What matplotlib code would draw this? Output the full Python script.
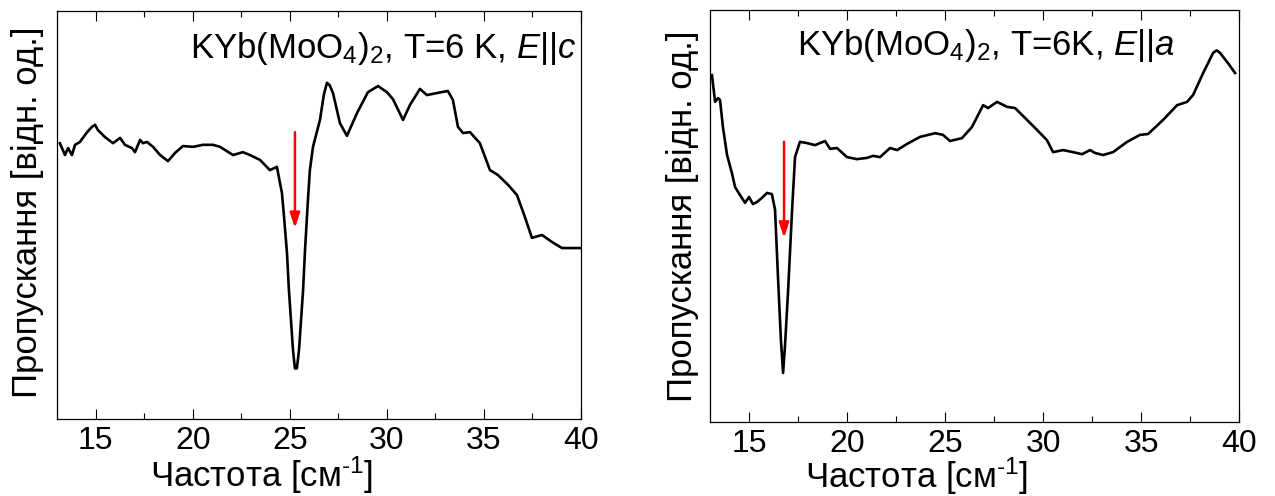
import matplotlib
matplotlib.use("Agg")
import matplotlib.pyplot as plt
from matplotlib.ticker import MultipleLocator, NullLocator

plt.rcParams['font.family'] = ['Liberation Sans', 'DejaVu Sans']
plt.rcParams['mathtext.fontset'] = 'custom'
plt.rcParams['mathtext.rm'] = 'Liberation Sans'
plt.rcParams['mathtext.it'] = 'Liberation Sans:italic'
plt.rcParams['mathtext.bf'] = 'Liberation Sans:bold'

# ---- data: E || c (left) ----
freq_c = [13.15, 13.41, 13.57, 13.77, 13.93, 14.18, 14.55, 14.80, 14.96, 15.11,
          15.47, 15.89, 16.25, 16.50, 16.86, 17.02, 17.28, 17.43, 17.64, 17.95,
          18.31, 18.72, 19.08, 19.49, 20.01, 20.52, 21.04, 21.40, 22.07, 22.58,
          22.94, 23.46, 23.97, 24.33, 24.59, 24.69, 24.85, 24.95, 25.16, 25.26,
          25.36, 25.47, 25.68, 25.78, 25.93, 26.03, 26.19, 26.55, 26.75, 26.91,
          27.05, 27.22, 27.58, 27.94, 28.46, 29.02, 29.54, 30.00, 30.31, 30.83,
          31.19, 31.70, 32.06, 32.58, 33.14, 33.40, 33.66, 33.92, 34.28, 34.79,
          35.31, 35.72, 36.24, 36.70, 37.11, 37.47, 37.99, 38.50, 39.02, 39.69,
          39.95]
trans_c = [67.6, 64.7, 66.4, 64.7, 67.2, 67.9, 70.3, 71.6, 72.1, 70.8,
           69.1, 67.6, 68.9, 67.2, 66.4, 65.4, 68.4, 67.6, 67.9, 66.7,
           64.7, 63.2, 65.2, 66.9, 66.7, 67.2, 67.2, 66.7, 64.7, 65.4,
           64.7, 63.5, 61.0, 61.8, 55.4, 50.0, 40.7, 31.6, 16.9, 12.4,
           12.4, 16.9, 31.6, 41.4, 53.7, 61.0, 66.7, 73.3, 79.5, 82.4,
           81.8, 79.9, 72.5, 69.4, 75.0, 80.1, 81.6, 80.1, 78.4, 73.3,
           77.0, 80.9, 79.4, 79.9, 80.4, 78.2, 71.6, 70.1, 70.3, 67.6,
           61.0, 59.8, 57.4, 54.9, 49.5, 44.4, 45.1, 43.4, 41.9, 41.9,
           41.9]

# ---- data: E || a (right) ----
freq_a = [13.10, 13.26, 13.41, 13.51, 13.66, 13.87, 14.12, 14.28, 14.53, 14.79,
          14.99, 15.19, 15.40, 15.65, 15.91, 16.16, 16.32, 16.47, 16.62, 16.73,
          16.83, 16.98, 17.19, 17.34, 17.59, 17.95, 18.36, 18.87, 19.13, 19.48,
          19.99, 20.50, 21.01, 21.32, 21.68, 22.19, 22.55, 23.06, 23.72, 24.49,
          24.89, 25.25, 25.86, 26.37, 26.94, 27.19, 27.65, 28.16, 28.57, 29.08,
          29.69, 30.20, 30.51, 31.02, 31.53, 31.99, 32.40, 32.65, 33.06, 33.57,
          34.29, 34.95, 35.36, 36.12, 36.84, 37.35, 37.66, 38.17, 38.68, 38.86,
          39.03, 39.44, 39.80]
trans_a = [84.2, 77.7, 78.6, 78.2, 71.6, 64.8, 60.4, 57.0, 55.1, 53.2,
           54.6, 52.9, 53.4, 54.4, 55.6, 55.3, 51.5, 35.2, 19.9, 11.9,
           18.7, 31.3, 51.5, 64.3, 68.0, 67.7, 67.2, 68.2, 66.3, 66.5,
           64.3, 63.8, 64.1, 64.6, 64.3, 66.5, 66.0, 67.5, 69.2, 70.1,
           69.7, 68.2, 68.9, 71.6, 76.9, 76.2, 77.7, 76.5, 76.2, 73.8,
           70.9, 68.4, 65.5, 66.0, 65.5, 65.0, 66.0, 65.3, 64.8, 65.5,
           68.0, 69.7, 69.9, 73.3, 76.9, 77.7, 79.4, 84.7, 89.6, 90.2,
           89.6, 87.1, 84.7]

arrow_c = (25.26, 70.3, 46.8)   # x, y_start, y_end
arrow_a = (16.78, 68.0, 44.7)

xticks = [15, 20, 25, 30, 35, 40]
title_c = r"KYb(MoO$_4$)$_2$, T=6 K, $E$||$c$"
title_a = r"KYb(MoO$_4$)$_2$, T=6K, $E$||$a$"
xlabel = r"Частота [см$^{\text{-}1}$]"
ylabel = "Пропускання [відн. од.]"

W, H = 1275, 496
fig = plt.figure(figsize=(W / 100, H / 100), dpi=100)

def axes_px(x0, y0, x1, y1):
    return fig.add_axes([x0 / W, 1 - y1 / H, (x1 - x0) / W, (y1 - y0) / H])

ax1 = axes_px(57, 11, 581, 419)
ax2 = axes_px(710, 10, 1239, 422)

for ax, f, t, arr, ylab_x, xlab_y, ylab_y in [
        (ax1, freq_c, trans_c, arrow_c, -0.024, -0.167, 0.507),
        (ax2, freq_a, trans_a, arrow_a, -0.020, -0.160, 0.50)]:
    ax.plot(f, t, color='black', lw=1.9, solid_joinstyle='round')
    ax.set_xlim(13, 40)
    ax.set_ylim(0, 100)
    ax.set_xticks(xticks)
    ax.xaxis.set_minor_locator(MultipleLocator(2.5))
    ax.yaxis.set_major_locator(NullLocator())
    ax.tick_params(axis='x', which='major', direction='in', length=7, width=0.8,
                   top=True, labelsize=23, pad=5)
    ax.tick_params(axis='x', which='minor', direction='in', length=4, width=0.8,
                   top=True)
    for s in ax.spines.values():
        s.set_linewidth(0.9)
    ax.set_xlabel(xlabel, fontsize=25)
    ax.xaxis.set_label_coords(0.39, xlab_y, transform=ax.transAxes)
    ax.xaxis.label.set_verticalalignment('baseline')
    ax.set_ylabel(ylabel, fontsize=25)
    ax.yaxis.set_label_coords(ylab_x, ylab_y)
    x, ys, ye = arr
    ax.annotate('', xy=(x, ye), xytext=(x, ys),
                arrowprops=dict(arrowstyle='-|>,head_length=0.9,head_width=0.3',
                                color='#ff0000', lw=1.8, shrinkA=0, shrinkB=0))

fig.text(576 / W, 1 - 58 / H, title_c, fontsize=25, ha='right', va='baseline')
fig.text(1175 / W, 1 - 55 / H, title_a, fontsize=25, ha='right', va='baseline')

fig.savefig('out.png', dpi=100)
